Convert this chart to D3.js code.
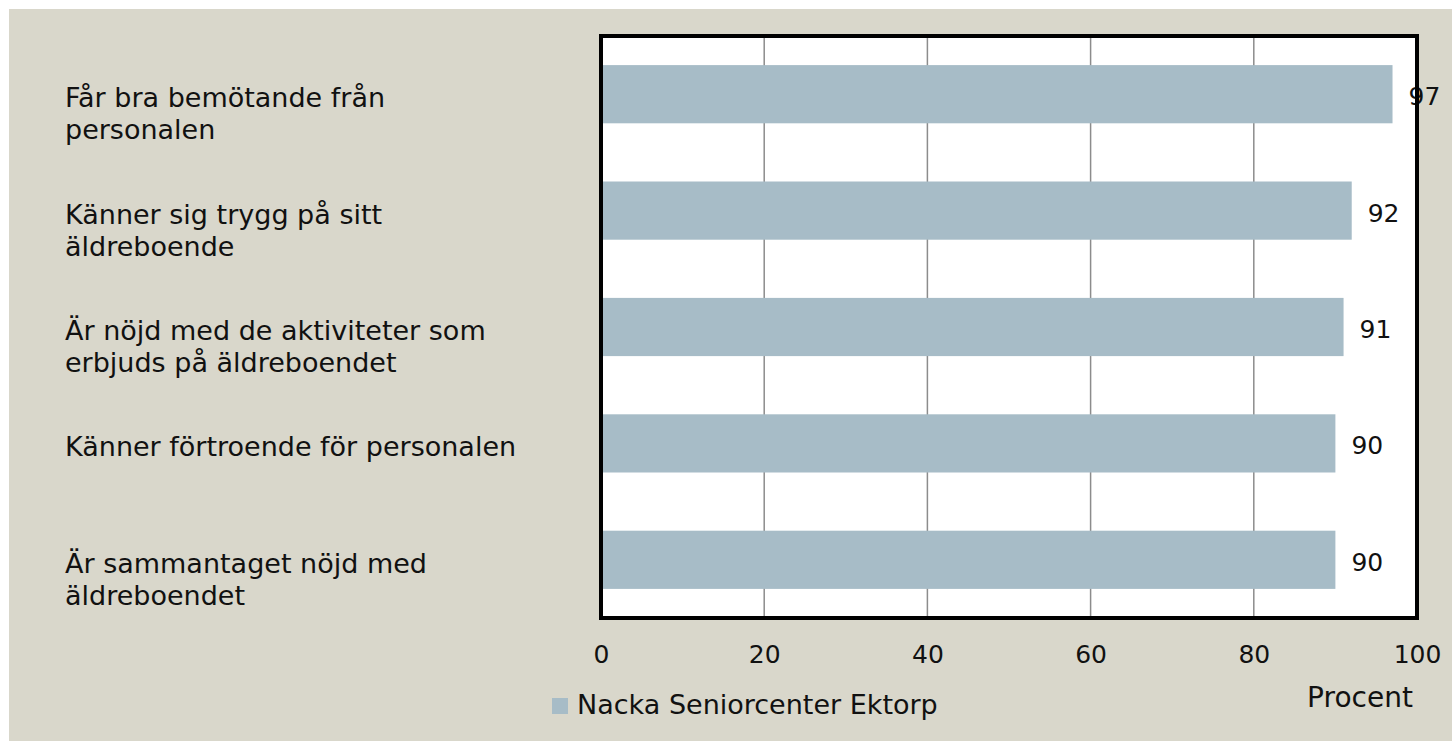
<!DOCTYPE html>
<html lang="sv">
<head>
  <meta charset="UTF-8">
  <title>Nacka Seniorcenter Ektorp</title>
  <script src="https://d3js.org/d3.v7.min.js"></script>
  <style>
    body { margin: 0; background: #ffffff; }
    text {
      fill: #111111;
      font-family: 'DejaVu Sans', sans-serif;
      font-size: 27px;
    }
    .tick line, .domain { display: none; }
  </style>
</head>
<body>
  <svg width="1452" height="741"></svg>

  <script>
    // The data
    const categories = [
      "Får bra bemötande från|personalen",
      "Känner sig trygg på sitt|äldreboende",
      "Är nöjd med de aktiviteter som|erbjuds på äldreboendet",
      "Känner förtroende för personalen",
      "Är sammantaget nöjd med|äldreboendet"
    ];
    const values = [97, 92, 91, 90, 90];
    const xTicks = [0, 20, 40, 60, 80, 100];
    const seriesName = "Nacka Seniorcenter Ektorp";
    const axisTitle = "Procent";

    const svg = d3.select("svg");
    const plot = { left: 601, right: 1417, top: 36, bottom: 618 };
    const barColor = "#a7bcc7";

    // background panel
    svg.append("rect")
      .attr("x", 9).attr("y", 9)
      .attr("width", 1452 - 9).attr("height", 741 - 9)
      .attr("fill", "#d9d7cb");

    const x = d3.scaleLinear()
      .domain([0, 100])
      .range([plot.left, plot.right]);

    const y = d3.scaleBand()
      .domain(categories)
      .range([plot.top, plot.bottom])
      .paddingInner(0.5)
      .paddingOuter(0.25);

    // plot area
    svg.append("rect")
      .attr("x", plot.left).attr("y", plot.top)
      .attr("width", plot.right - plot.left)
      .attr("height", plot.bottom - plot.top)
      .attr("fill", "#ffffff");

    // gridlines
    svg.append("g")
      .selectAll("line")
      .data(xTicks.slice(1, -1))
      .join("line")
      .attr("x1", d => x(d)).attr("x2", d => x(d))
      .attr("y1", plot.top).attr("y2", plot.bottom)
      .attr("stroke", "#8c8c8c")
      .attr("stroke-width", 1.5);

    // bars
    svg.append("g")
      .selectAll("rect")
      .data(values)
      .join("rect")
      .attr("x", x(0))
      .attr("y", (d, i) => y(categories[i]))
      .attr("width", d => x(d) - x(0))
      .attr("height", y.bandwidth())
      .attr("fill", barColor);

    // value labels
    svg.append("g")
      .selectAll("text")
      .data(values)
      .join("text")
      .attr("x", d => x(d) + 16)
      .attr("y", (d, i) => y(categories[i]) + y.bandwidth() / 2 + 11)
      .style("font-size", "25px")
      .text(d => d);

    // frame on top
    svg.append("rect")
      .attr("x", plot.left).attr("y", plot.top)
      .attr("width", plot.right - plot.left)
      .attr("height", plot.bottom - plot.top)
      .attr("fill", "none")
      .attr("stroke", "#000000")
      .attr("stroke-width", 4);

    // category labels
    const labels = svg.append("g")
      .selectAll("text")
      .data(categories)
      .join("text")
      .attr("x", 65)
      .attr("y", d => y(d) + y.bandwidth() / 2 + 13);
    labels.selectAll("tspan")
      .data(d => d.split("|"))
      .join("tspan")
      .attr("x", 65)
      .attr("dy", (d, i) => i === 0 ? 0 : 32)
      .text(d => d);

    // x axis
    const xAxis = svg.append("g")
      .attr("transform", "translate(0," + plot.bottom + ")")
      .call(d3.axisBottom(x).tickValues(xTicks).tickSize(0));
    xAxis.selectAll("text")
      .attr("y", 45)
      .attr("dy", 0)
      .style("font-size", "25px")
      .style("font-family", "'DejaVu Sans', sans-serif")
      .attr("fill", "#111111");

    // axis title
    svg.append("text")
      .attr("x", 1360)
      .attr("y", 707)
      .attr("text-anchor", "middle")
      .style("font-size", "28px")
      .text(axisTitle);

    // legend
    svg.append("rect")
      .attr("x", 552).attr("y", 698)
      .attr("width", 16).attr("height", 16)
      .attr("fill", barColor);
    svg.append("text")
      .attr("x", 577)
      .attr("y", 714)
      .text(seriesName);
  </script>
</body>
</html>
